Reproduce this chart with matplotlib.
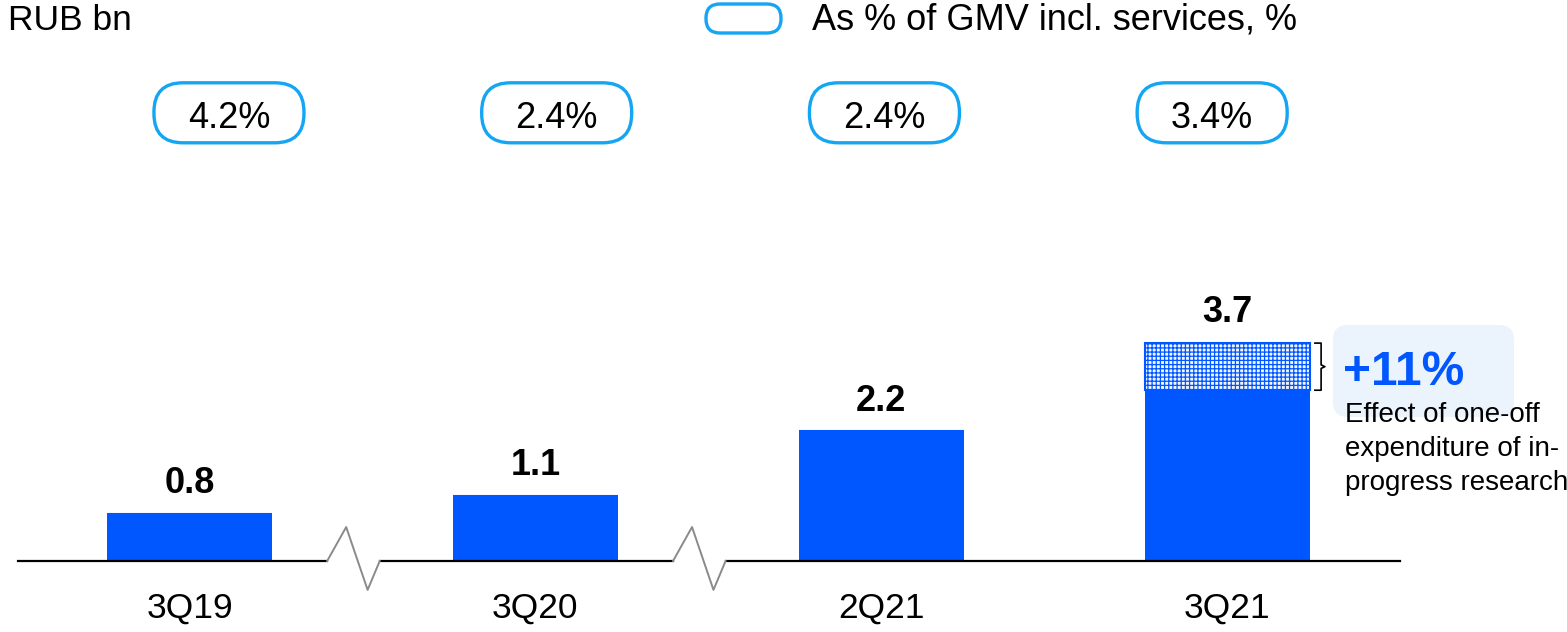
import numpy as np
import matplotlib
import matplotlib.pyplot as plt
from matplotlib.patches import FancyBboxPatch
from matplotlib.transforms import ScaledTranslation

matplotlib.use('Agg')

plt.rcParams['font.family'] = ['Liberation Sans', 'DejaVu Sans']
plt.rcParams['hatch.linewidth'] = 0.9

# Data.
quarters = ['3Q19', '3Q20', '2Q21', '3Q21']
capex = [0.8, 1.1, 2.2, 3.7]
share_of_gmv = [4.2, 2.4, 2.4, 3.4]
one_off = [0.0, 0.0, 0.0, 0.8]
one_off_effect = 11

BLUE = '#0057ff'
BUBBLE = '#14a5f3'
PANEL = '#ebf3fd'

fig = plt.figure(figsize=(15.67, 6.32), dpi=100)
ax = fig.add_axes([0, 0, 1, 1])
ax.set_xlim(-0.548, 3.983)
ax.set_ylim(-1.205, 9.525)
ax.axis('off')

x = np.arange(len(quarters))
base = [v - o for v, o in zip(capex, one_off)]
ax.bar(x, base, width=0.477, color=BLUE, linewidth=0)
ax.bar(x, one_off, bottom=base, width=0.477, facecolor='#f2f6ff',
       edgecolor=BLUE, linewidth=1.5, hatch='++++')


def rounded_box(x0, y0, w, h, rs, **kw):
    """Box sized in inches, centred on a data point."""
    trans = fig.dpi_scale_trans + ScaledTranslation(x0, y0, ax.transData)
    patch = FancyBboxPatch((-w / 2, -h / 2), w, h,
                           boxstyle=f'round,pad=0,rounding_size={rs}',
                           transform=trans, clip_on=False, **kw)
    ax.add_patch(patch)


# Baseline with break marks between periods.
ax.plot([-0.496, 0.398], [0, 0], color='black', lw=1.6)
ax.plot([0.55, 1.398], [0, 0], color='black', lw=1.6)
ax.plot([1.55, 3.50], [0, 0], color='black', lw=1.6)
for i in (0, 1):
    ax.plot([i + 0.398, i + 0.453, i + 0.515, i + 0.55],
            [0, 0.577, -0.49, 0], color='#8a8a8a', lw=1.4)

for xi, v, q in zip(x, capex, quarters):
    ax.annotate(f'{v:.1f}', (xi, v), xytext=(0, 15),
                textcoords='offset points', ha='center', va='baseline',
                fontsize=26, fontweight='bold')
    ax.annotate(q, (xi, 0), xytext=(0, -40.5), textcoords='offset points',
                ha='center', va='baseline', fontsize=25.5)

# Share-of-GMV bubbles sit on their own, slightly narrower, grid.
bubble_x = np.linspace(0.114, 2.957, len(quarters))
for bx, s in zip(bubble_x, share_of_gmv):
    rounded_box(bx, 7.61, 1.5, 0.6, 0.29, facecolor='white',
                edgecolor=BUBBLE, lw=2.4)
    ax.annotate(f'{s:.1f}%', (bx, 7.61), xytext=(0, -10.8),
                textcoords='offset points', ha='center', va='baseline',
                fontsize=26)

# One-off effect bracket and call-out.
top = capex[3]
bot = base[3]
mid = (top + bot) / 2
ax.plot([3.254, 3.272, 3.272, 3.283, 3.272, 3.272, 3.254],
        [top, top, mid + 0.03, mid, mid - 0.03, bot, bot],
        color='black', lw=1.2)
rounded_box(3.568, 3.226, 1.81, 0.92, 0.15, facecolor=PANEL, lw=0)
ax.text(3.335, 2.988, f'+{one_off_effect}%', color=BLUE, fontsize=34.5,
        fontweight='bold', ha='left', va='baseline')
note = ['Effect of one-off', 'expenditure of in-', 'progress research']
for k, line in enumerate(note):
    ax.text(3.341, 2.36 - k * 34 / 58.9, line, fontsize=20,
            ha='left', va='baseline')

# Header and legend.
fig.text(8 / 1567, 1 - 30 / 632, 'RUB bn', fontsize=25.5,
         ha='left', va='baseline')
legend_key = FancyBboxPatch((7.06, 5.99), 0.75, 0.29,
                            boxstyle='round,pad=0,rounding_size=0.14',
                            transform=fig.dpi_scale_trans, facecolor='white',
                            edgecolor=BUBBLE, lw=2.4)
fig.patches.append(legend_key)
fig.text(812 / 1567, 1 - 30 / 632, 'As % of GMV incl. services, %',
         fontsize=26, ha='left', va='baseline')

fig.savefig('out.png', dpi=100)
